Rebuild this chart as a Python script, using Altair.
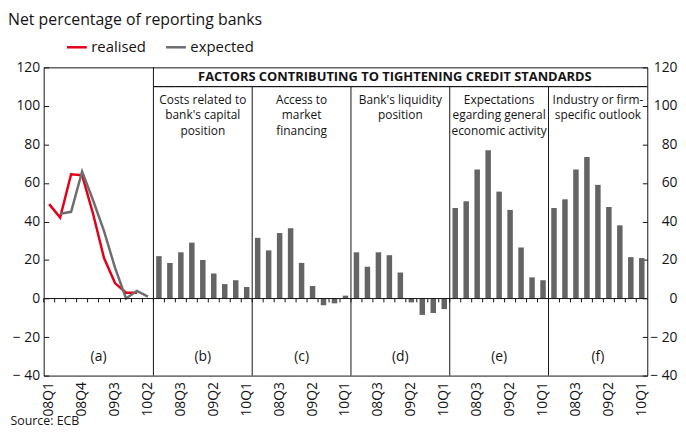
import altair as alt
import pandas as pd

# ---------------- data ----------------
quarters = ["08Q1", "08Q2", "08Q3", "08Q4", "09Q1", "09Q2", "09Q3", "09Q4", "10Q1", "10Q2"]
realised = [49, 42, 64.5, 64, 44, 21, 8, 3, 3, None]
expected = [None, 44, 45, 66, 51, 35, 16, 0, 4, 1]

factor_panels = ["b", "c", "d", "e", "f"]
factor_names = [
    "Costs related to\nbank's capital\nposition",
    "Access to\nmarket\nfinancing",
    "Bank's liquidity\nposition",
    "Expectations\negarding general\neconomic activity",
    "Industry or firm-\nspecific outlook",
]
capital_position = [22, 18.5, 24, 29, 20, 13, 7.5, 9.5, 6]
market_financing = [31.5, 25, 34, 36.5, 18.5, 6.5, -3.5, -2.5, 1.5]
liquidity_position = [24, 16.5, 24, 22.5, 13.5, -2, -8.5, -7.5, -5.5]
economic_activity = [47, 50.5, 67, 77, 55.5, 46, 26.5, 11, 9.5]
industry_outlook = [47, 51.5, 67, 73.5, 59, 47.5, 38, 21.5, 21]
factor_values = [capital_position, market_financing, liquidity_position,
                 economic_activity, industry_outlook]

panel_letters = ["(a)", "(b)", "(c)", "(d)", "(e)", "(f)"]
header_text = "FACTORS CONTRIBUTING TO TIGHTENING CREDIT STANDARDS"
y_ticks = [-40, -20, 0, 20, 40, 60, 80, 100, 120]
a_label_quarters = ["08Q1", "08Q4", "09Q3", "10Q2"]
factor_label_quarters = ["08Q3", "09Q2", "10Q1"]
legend_series = ["realised", "expected"]

# ---------------- styles ----------------
RED = "#e2001a"
GREY_LINE = "#6e6e6e"
GREY_BAR = "#646464"
INK = "#141414"
FONT = "Open Sans"

Y_MIN, Y_MAX = y_ticks[0], y_ticks[-1]
HEADER_LINE = 110
HEADER_TEXT_Y = 115
SUBTITLE_Y = 105.6
LETTER_Y = -30.5
TICK_LEN = 2


def key(p, q):
    return f"{p}|{q}"


domain = [key("a", q) for q in quarters] + [
    key(p, q) for p in factor_panels for q in quarters[:9]
]
factor_keys = domain[len(quarters):]

bars = pd.DataFrame(
    [
        {"key": key(p, q), "value": v}
        for p, vals in zip(factor_panels, factor_values)
        for q, v in zip(quarters[:9], vals)
    ]
)

line_rows = []
for name, vals in zip(legend_series, [realised, expected]):
    for q, v in zip(quarters, vals):
        if v is not None:
            line_rows.append({"key": key("a", q), "series": name, "value": v})
lines = pd.DataFrame(line_rows)

ticks_df = pd.DataFrame({"key": domain, "y0": 0, "y1": -TICK_LEN})
dividers = pd.DataFrame(
    {
        "key": [key(p, quarters[0]) for p in factor_panels],
        "y0": Y_MIN,
        "y1": [Y_MAX] + [HEADER_LINE] * (len(factor_panels) - 1),
    }
)
header_line = pd.DataFrame({"key": factor_keys, "y0": HEADER_LINE, "y1": HEADER_LINE})
header_df = pd.DataFrame(
    {"key": [key("d", quarters[3])], "text": [header_text], "y": HEADER_TEXT_Y}
)
subtitles = pd.DataFrame(
    {"key": [key(p, quarters[4]) for p in factor_panels], "text": factor_names,
     "y": SUBTITLE_Y}
)
letters_a = pd.DataFrame(
    {"key": [key("a", quarters[4])], "text": [panel_letters[0]], "y": LETTER_Y}
)
letters_f = pd.DataFrame(
    {"key": [key(p, quarters[4]) for p in factor_panels], "text": panel_letters[1:],
     "y": LETTER_Y}
)
zero_df = pd.DataFrame({"v": [0]})

shown_keys = [key("a", q) for q in a_label_quarters] + [
    key(p, q) for p in factor_panels for q in factor_label_quarters
]

# ---------------- scales / axes ----------------
xscale = alt.Scale(type="band", domain=domain, paddingInner=0, paddingOuter=0)
yscale = alt.Scale(domain=[Y_MIN, Y_MAX], nice=False, zero=False)

label_expr = "datum.value < 0 ? '\u2212 ' + abs(datum.value) : datum.label"

left_axis = alt.Axis(
    orient="left", values=y_ticks, offset=-5, tickSize=5, domain=False,
    grid=False, labelPadding=4, labelFontSize=14, labelExpr=label_expr,
    title=None, tickColor=INK, labelColor=INK,
)
right_axis = alt.Axis(
    orient="right", values=y_ticks, offset=-5, tickSize=5, domain=False,
    grid=False, labelPadding=30, labelAlign="right", labelFontSize=14,
    labelExpr=label_expr, title=None, tickColor=INK, labelColor=INK,
)
x_axis = alt.Axis(
    orient="bottom",
    values=shown_keys, labelExpr="split(datum.value, '|')[1]", labelAngle=270,
    labelFontSize=14, labelPadding=6, ticks=False, domain=False, grid=False,
    labelOverlap=False, labelColor=INK,
    title="Source: ECB", titleAnchor="start", titleAlign="left",
    titleBaseline="top", titleX=-34, titleY=39, titleFontSize=12.5,
    titleFontWeight="normal", titleColor=INK,
)


def X(**kw):
    return alt.X("key:N", scale=xscale, axis=x_axis, **kw)


def Y(field, axis=None):
    return alt.Y(f"{field}:Q", scale=yscale, axis=axis)


# ---------------- layers ----------------
bar_layer = alt.Chart(bars).mark_bar(width={"band": 0.5}, color=GREY_BAR).encode(
    x=X(),
    y=Y("value", axis=left_axis),
)

line_layer = alt.Chart(lines).mark_line(strokeWidth=2.5).encode(
    x=X(),
    y=Y("value"),
    color=alt.Color(
        "series:N",
        scale=alt.Scale(domain=legend_series, range=[RED, GREY_LINE]),
        legend=alt.Legend(
            orient="none", legendX=22, legendY=-32, direction="horizontal",
            title=None, symbolType="stroke", symbolSize=400,
            symbolStrokeWidth=2.5, labelFontSize=15, labelColor=INK,
            columnPadding=14, labelOffset=3,
        ),
    ),
)

tick_layer = alt.Chart(ticks_df).mark_rule(color=INK, strokeWidth=1).encode(
    x=X(bandPosition=0), y=Y("y0"), y2="y1:Q"
)

divider_layer = alt.Chart(dividers).mark_rule(color=INK, strokeWidth=1).encode(
    x=X(bandPosition=0), y=Y("y0"), y2="y1:Q"
)

header_line_layer = alt.Chart(header_line).mark_rect(
    fill="transparent", stroke=INK, strokeWidth=1
).encode(x=X(), y=Y("y0"), y2="y1:Q")

header_layer = alt.Chart(header_df).mark_text(
    fontSize=13, fontWeight="bold", color=INK, baseline="middle", align="center"
).encode(x=X(bandPosition=1), y=Y("y"), text="text:N")

subtitle_layer = alt.Chart(subtitles).mark_text(
    fontSize=12, color=INK, baseline="top", align="center",
    lineBreak="\n", lineHeight=15.5,
).encode(x=X(), y=Y("y"), text="text:N")

letter_a_layer = alt.Chart(letters_a).mark_text(
    fontSize=14, color=INK, baseline="middle", align="center"
).encode(x=X(bandPosition=1), y=Y("y"), text="text:N")

letter_layer = alt.Chart(letters_f).mark_text(
    fontSize=14, color=INK, baseline="middle", align="center"
).encode(x=X(), y=Y("y"), text="text:N")

zero_layer = alt.Chart(zero_df).mark_rule(color=INK, strokeWidth=1).encode(
    y=Y("v", axis=right_axis)
)

chart = (
    alt.layer(
        bar_layer, line_layer, tick_layer, divider_layer, header_line_layer,
        header_layer, subtitle_layer, letter_a_layer, letter_layer, zero_layer,
    )
    .resolve_scale(y="independent")
    .resolve_axis(y="independent")
    .properties(
        width=609,
        height=311,
        autosize=alt.AutoSizeParams(type="none"),
        padding={"left": 36, "top": 58, "right": 31, "bottom": 52},
        title=alt.Title(
            "Net percentage of reporting banks", anchor="start", frame="group",
            dx=-36, offset=8, fontSize=16, fontWeight="normal", color=INK,
        ),
    )
    .configure(font=FONT)
    .configure_view(stroke=INK, strokeWidth=1)
)

chart.save("out.html", embed_options={"renderer": "svg", "actions": False})
